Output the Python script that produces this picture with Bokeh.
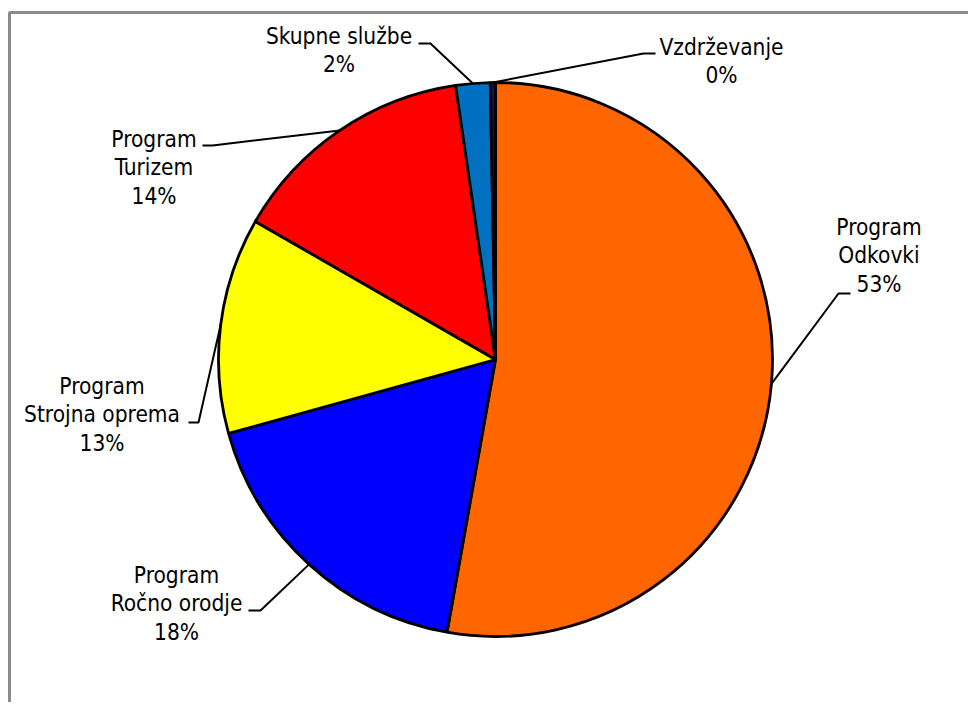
import math
from bokeh.plotting import figure
from bokeh.models import Range1d, ColumnDataSource
from bokeh.embed import file_html
from bokeh.resources import INLINE
from bokeh.core.properties import value

# ---- data ----
category_lines = [
    ["Program", "Odkovki"],
    ["Program", "Ročno orodje"],
    ["Program", "Strojna oprema"],
    ["Program", "Turizem"],
    ["Skupne službe"],
    ["Vzdrževanje"],
]
shares = [52.8, 17.9, 12.6, 14.4, 2.0, 0.3]
colors = ["#FF6600", "#0000FF", "#FFFF00", "#FF0000", "#0070C0", "#10104A"]

# ---- layout (page pixel coordinates) ----
W, H = 968, 702
CX, CY, R = 495, 359, 277
# text centre x, first baseline y, leader start x, elbow x, elbow y
label_layout = [
    (878.5, 226, 850, 838, 293),
    (176, 574, 248, 260, 610),
    (101.5, 385, 188, 198, 422),
    (153.5, 138, 202, 212, 145),
    (338.5, 35, 418, 430, 43),
    (721, 46, 655, 643, 53),
]
LINE_H = 28.5
FONT = "DejaVu Sans Condensed"


def px(x):
    return x


def py(y):
    return H - y


p = figure(width=W, height=H, x_range=Range1d(0, W), y_range=Range1d(0, H),
           output_backend="svg", toolbar_location=None,
           x_axis_location=None, y_axis_location=None, min_border=0)
p.grid.visible = False
p.outline_line_color = None
p.background_fill_color = "white"
p.border_fill_color = "white"

# chart-area border (left and top edges visible)
p.line(x=[px(9), px(9), px(990)], y=[py(720), py(12), py(12)],
       line_color="#8c8c8c", line_width=3)

total = sum(shares)
starts, ends, mids = [], [], []
cum = 0.0
for v in shares:
    f0 = cum / total
    cum += v
    f1 = cum / total
    starts.append(math.pi / 2 - 2 * math.pi * f0)
    ends.append(math.pi / 2 - 2 * math.pi * f1)
    mids.append(2 * math.pi * (f0 + f1) / 2)

src = ColumnDataSource(dict(start=starts, end=ends, color=colors))
p.wedge(x=px(CX), y=py(CY), radius=R, start_angle="start", end_angle="end",
        direction="clock", fill_color="color", line_color="black",
        line_width=2.8, source=src)

# leader lines
xs, ys = [], []
for (tcx, by, sx, ex, ey), m in zip(label_layout, mids):
    edge_x = CX + R * math.sin(m)
    edge_y = CY - R * math.cos(m)
    xs.append([px(sx), px(ex), px(edge_x)])
    ys.append([py(ey), py(ey), py(edge_y)])
p.multi_line(xs=xs, ys=ys, line_color="black", line_width=2)

# labels
tx, ty, tt = [], [], []
for lines, v, (tcx, by, sx, ex, ey) in zip(category_lines, shares, label_layout):
    all_lines = lines + [f"{int(round(v))}%"]
    for i, s in enumerate(all_lines):
        tx.append(px(tcx))
        ty.append(py(by + i * LINE_H))
        tt.append(s)
p.text(x=tx, y=ty, text=tt, text_align="center", text_baseline="alphabetic",
       text_font=value(FONT), text_font_size="22.5px", text_color="black")

open("out.html", "w").write(file_html(p, INLINE))
